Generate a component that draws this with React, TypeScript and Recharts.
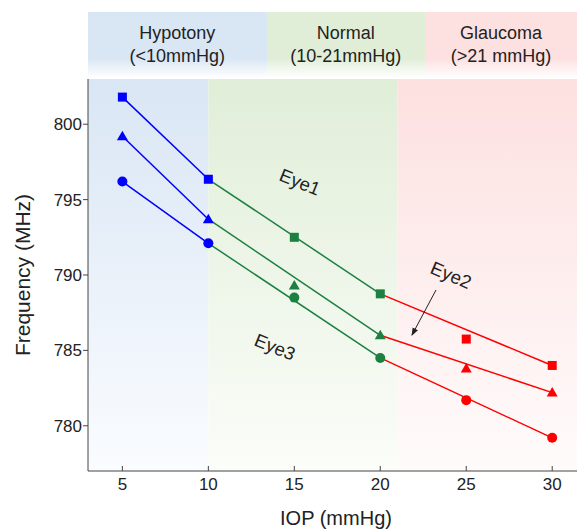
import React from 'react';
import { ComposedChart, Scatter, XAxis, YAxis, ReferenceArea } from 'recharts';

const iop = [5, 10, 15, 20, 25, 30];
const eye1 = [801.8, 796.35, 792.5, 788.75, 785.75, 784.0];
const eye2 = [799.2, 793.7, 789.3, 786.0, 783.8, 782.2];
const eye3 = [796.2, 792.1, 788.5, 784.5, 781.7, 779.2];
const xTicks = [5, 10, 15, 20, 25, 30];
const yTicks = [780, 785, 790, 795, 800];
const xDomain = [3, 31.5];
const yDomain = [777, 803];
const zoneEdges = [3, 10, 21, 31.5];
const zoneNames = ['Hypotony', 'Normal', 'Glaucoma'];
const zoneRanges = ['(<10mmHg)', '(10-21mmHg)', '(>21 mmHg)'];
const segments = [[0, 1], [1, 3], [3, 5]];
const eyeNames = ['Eye1', 'Eye2', 'Eye3'];

const lineColors = ['#0000ff', '#1b8040', '#ff0000'];
const zoneTop = ['#d9e6f4', '#e0eed8', '#fde0e0'];
const zoneBottom = ['#fafcff', '#fbfdf9', '#fffbfb'];
const FONT = '"Liberation Sans", Arial, Helvetica, sans-serif';
const AXIS = '#444';

const zoneOf = (x: number) => (x <= 10 ? 0 : x <= 20 ? 1 : 2);
const points = (vals: number[]) => iop.map((x, i) => ({ x, y: vals[i], color: lineColors[zoneOf(x)] }));
const eyes = [eye1, eye2, eye3].map(points);

const Square = (p: any) => <rect x={p.cx - 4.5} y={p.cy - 4.5} width={9} height={9} fill={p.payload.color} />;
const Triangle = (p: any) => (
  <polygon points={`${p.cx},${p.cy - 5.5} ${p.cx + 5.5},${p.cy + 4} ${p.cx - 5.5},${p.cy + 4}`} fill={p.payload.color} />
);
const Circle = (p: any) => <circle cx={p.cx} cy={p.cy} r={5} fill={p.payload.color} />;
const shapes = [Square, Triangle, Circle];
const NoShape = () => <g />;

const BottomTick = (p: any) => (
  <g>
    <line x1={p.x} x2={p.x} y1={p.y} y2={p.y - 5} stroke={AXIS} strokeWidth={1} />
    <text x={p.x} y={p.y + 19} textAnchor="middle" fontSize={17} fill="#222" fontFamily={FONT}>
      {p.payload.value}
    </text>
  </g>
);
const TopTick = (p: any) => (
  <line x1={p.x} x2={p.x} y1={p.y} y2={p.y + 5} stroke={AXIS} strokeWidth={1} />
);

export default function App() {
  return (
    <div style={{ position: 'absolute', left: 0, top: 0, width: 577, height: 531, overflow: 'hidden', background: '#fff', fontFamily: FONT }}>
      <div style={{ position: 'absolute', left: 88, top: 12, width: 489, height: 66, display: 'flex' }}>
        {zoneNames.map((n, i) => (
          <div
            key={n}
            style={{
              width: [178.7, 158.3, 152][i],
              height: 66,
              background: `linear-gradient(to bottom, ${zoneTop[i]} 0%, ${zoneTop[i]} 70%, #ffffff 100%)`,
              textAlign: 'center',
              fontSize: 18,
              lineHeight: '23px',
              paddingTop: 10,
              boxSizing: 'border-box',
              color: '#222',
            }}
          >
            <div>{n}</div>
            <div>{zoneRanges[i]}</div>
          </div>
        ))}
      </div>
      <div style={{ position: 'absolute', left: 0, top: 0 }}>
        <ComposedChart width={590} height={531} margin={{ top: 79, right: 12, bottom: 0, left: 0 }}>
          <defs>
            {zoneNames.map((n, i) => (
              <linearGradient key={n} id={`zg${i}`} x1="0" y1="0" x2="0" y2="1">
                <stop offset="0%" stopColor={zoneTop[i]} />
                <stop offset="100%" stopColor={zoneBottom[i]} />
              </linearGradient>
            ))}
          </defs>
          {zoneNames.map((n, i) => (
            <ReferenceArea
              key={n}
              x1={zoneEdges[i]}
              x2={zoneEdges[i + 1]}
              y1={yDomain[0]}
              y2={yDomain[1]}
              fill={`url(#zg${i})`}
              fillOpacity={1}
              stroke="none"
              ifOverflow="visible"
            />
          ))}
          <XAxis
            type="number"
            dataKey="x"
            domain={xDomain}
            ticks={xTicks}
            allowDataOverflow
            height={60}
            stroke={AXIS}
            tickLine={false}
            tickSize={0}
            tickMargin={0}
            tick={<BottomTick />}
            label={{ value: 'IOP (mmHg)', position: 'insideBottom', offset: 6, fontSize: 20, fill: '#222', fontFamily: FONT, dx: 3 }}
          />
          <XAxis
            xAxisId="top"
            orientation="top"
            type="number"
            dataKey="x"
            domain={xDomain}
            ticks={xTicks}
            allowDataOverflow
            height={0}
            stroke={AXIS}
            tickLine={false}
            tickSize={0}
            tickMargin={0}
            tick={<TopTick />}
          />
          <YAxis
            type="number"
            dataKey="y"
            domain={yDomain}
            ticks={yTicks}
            allowDataOverflow
            width={88}
            stroke={AXIS}
            tickSize={5}
            tickMargin={1}
            tick={{ fontSize: 17, fill: '#222', fontFamily: FONT }}
            label={{ value: 'Frequency (MHz)', angle: -90, position: 'insideLeft', offset: 23, fontSize: 21, fill: '#222', fontFamily: FONT, style: { textAnchor: 'middle' } }}
          />
          {eyes.map((pts, e) =>
            segments.map(([a, b], s) => (
              <Scatter
                key={`l${e}-${s}`}
                name={`${eyeNames[e]}-${s}`}
                data={[pts[a], pts[b]]}
                line={{ stroke: lineColors[s], strokeWidth: 1.5 }}
                shape={NoShape}
                isAnimationActive={false}
                legendType="none"
              />
            ))
          )}
          {eyes.map((pts, e) => (
            <Scatter key={`m${e}`} name={eyeNames[e]} data={pts} shape={shapes[e]} isAnimationActive={false} />
          ))}
        </ComposedChart>
      </div>
      <svg width={577} height={531} style={{ position: 'absolute', left: 0, top: 0, pointerEvents: 'none' }}>
        <defs>
          <marker id="arrowHead" markerWidth="8" markerHeight="8" refX="7" refY="4" orient="auto" markerUnits="userSpaceOnUse">
            <path d="M0,1 L8,4 L0,7 Z" fill="#222" />
          </marker>
        </defs>
        <text x={300} y={182} fontSize={18.5} fill="#222" fontFamily={FONT} textAnchor="middle" dominantBaseline="central" transform="rotate(22 300 182)">Eye1</text>
        <text x={451} y={275} fontSize={18.5} fill="#222" fontFamily={FONT} textAnchor="middle" dominantBaseline="central" transform="rotate(23 451 275)">Eye2</text>
        <text x={275} y={347} fontSize={18.5} fill="#222" fontFamily={FONT} textAnchor="middle" dominantBaseline="central" transform="rotate(22 275 347)">Eye3</text>
        <line x1={436} y1={290} x2={412} y2={335} stroke="#222" strokeWidth={1} markerEnd="url(#arrowHead)" />
      </svg>
    </div>
  );
}
